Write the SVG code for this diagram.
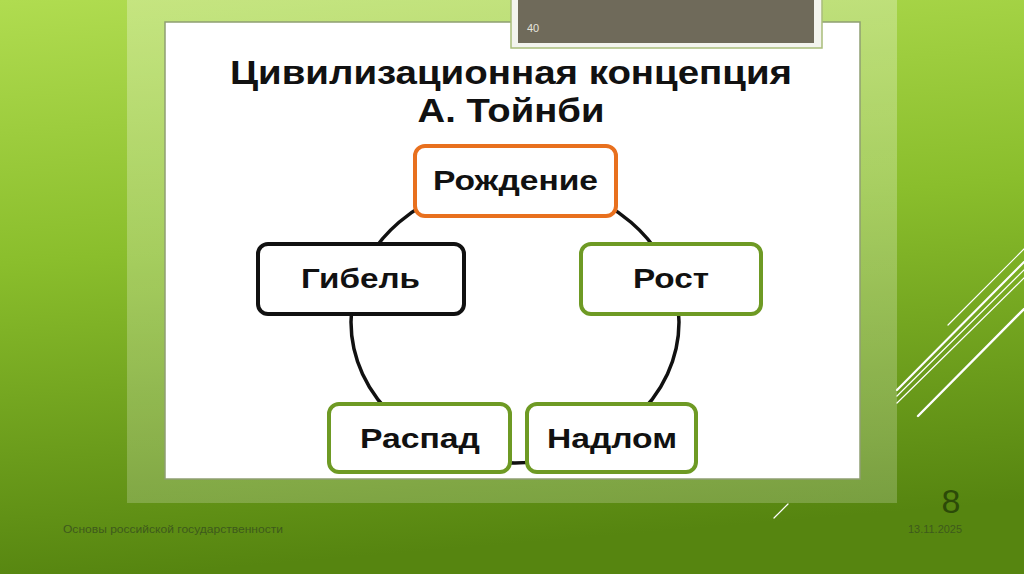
<svg xmlns="http://www.w3.org/2000/svg" width="1024" height="574" viewBox="0 0 1024 574">
  <defs>
    <linearGradient id="bg" x1="0" y1="0" x2="0.15" y2="1">
      <stop offset="0" stop-color="#b0dc50"/>
      <stop offset="0.45" stop-color="#8abe2c"/>
      <stop offset="1" stop-color="#568510"/>
    </linearGradient>
    <linearGradient id="panel" x1="0" y1="0" x2="0" y2="1">
      <stop offset="0" stop-color="#ffffff" stop-opacity="0.28"/>
      <stop offset="1" stop-color="#ffffff" stop-opacity="0.2"/>
    </linearGradient>
  </defs>
  <style>
    .box { fill: #ffffff; stroke-width: 4; }
    .orange { stroke: #e8701e; }
    .black { stroke: #111111; }
    .green { stroke: #6e9a24; }
    .lbl { font-family: "Liberation Sans", Arial, sans-serif; font-weight: bold; font-size: 28px; fill: #111111; text-anchor: middle; }
    .title { font-family: "Liberation Sans Narrow", "Liberation Sans", Arial, sans-serif; font-weight: bold; font-size: 33px; fill: #111111; text-anchor: middle; }
    .deco { stroke: #ffffff; fill: none; stroke-linecap: round; }
    .foot { font-family: "Liberation Sans", Arial, sans-serif; font-size: 11px; fill: #3e5a1c; }
  </style>

  <!-- background -->
  <rect x="0" y="0" width="1024" height="574" fill="url(#bg)"/>
  <rect x="127" y="0" width="770" height="503" fill="url(#panel)"/>

  <!-- decorative lines -->
  <g id="decor">
    <line class="deco" x1="948" y1="325" x2="1024" y2="249" stroke-width="1.2"/>
    <line class="deco" x1="897" y1="390" x2="1024" y2="262" stroke-width="2.2"/>
    <line class="deco" x1="897" y1="396" x2="1024" y2="270" stroke-width="1.2"/>
    <line class="deco" x1="897" y1="403" x2="1024" y2="278" stroke-width="1.2"/>
    <line class="deco" x1="918" y1="416" x2="1024" y2="309" stroke-width="2.4"/>
    <line class="deco" x1="788" y1="504" x2="774" y2="518" stroke-width="1.2" stroke="#e8f5c0"/>
  </g>

  <!-- slide image -->
  <rect x="165" y="22" width="695" height="457" fill="#ffffff" stroke="#8f9f72" stroke-width="1.5"/>
  <g id="header">
    <rect x="511" y="-2" width="311" height="50" fill="#f3f4ee" stroke="#a9bd7a" stroke-width="1.5"/>
    <rect x="518" y="-2" width="296" height="45" fill="#6f6a5a"/>
    <text x="527" y="32" font-family="Liberation Sans, Arial, sans-serif" font-size="11" fill="#e6e4dc">40</text>
  </g>

  <g id="title">
    <text class="title" x="511" y="84" textLength="562" lengthAdjust="spacingAndGlyphs">Цивилизационная концепция</text>
    <text class="title" x="511" y="122" textLength="187" lengthAdjust="spacingAndGlyphs">А. Тойнби</text>
  </g>

  <!-- connectors -->
  <g id="connectors">
    <ellipse cx="515" cy="322" rx="164" ry="141" fill="none" stroke="#111111" stroke-width="3.5"/>
  </g>

  <g id="node-rozhdenie">
    <rect class="box orange" x="415" y="146" width="201" height="70" rx="10"/>
    <text class="lbl" x="515.5" y="190" textLength="165" lengthAdjust="spacingAndGlyphs">Рождение</text>
  </g>
  <g id="node-gibel">
    <rect class="box black" x="258" y="244" width="206" height="70" rx="10"/>
    <text class="lbl" x="360.5" y="288" textLength="119" lengthAdjust="spacingAndGlyphs">Гибель</text>
  </g>
  <g id="node-rost">
    <rect class="box green" x="581" y="244" width="180" height="70" rx="10"/>
    <text class="lbl" x="671" y="288" textLength="76" lengthAdjust="spacingAndGlyphs">Рост</text>
  </g>
  <g id="node-raspad">
    <rect class="box green" x="329" y="404" width="181" height="68" rx="10"/>
    <text class="lbl" x="420" y="448" textLength="120" lengthAdjust="spacingAndGlyphs">Распад</text>
  </g>
  <g id="node-nadlom">
    <rect class="box green" x="527" y="404" width="169" height="68" rx="10"/>
    <text class="lbl" x="612" y="448" textLength="130" lengthAdjust="spacingAndGlyphs">Надлом</text>
  </g>

  <!-- footer -->
  <text x="951" y="513" font-family="Liberation Sans, Arial, sans-serif" font-size="34" fill="#2c4a08" text-anchor="middle">8</text>
  <text class="foot" x="63" y="533" textLength="220" lengthAdjust="spacingAndGlyphs">Основы российской государственности</text>
  <text class="foot" x="908" y="533" textLength="54" lengthAdjust="spacingAndGlyphs">13.11.2025</text>
</svg>
